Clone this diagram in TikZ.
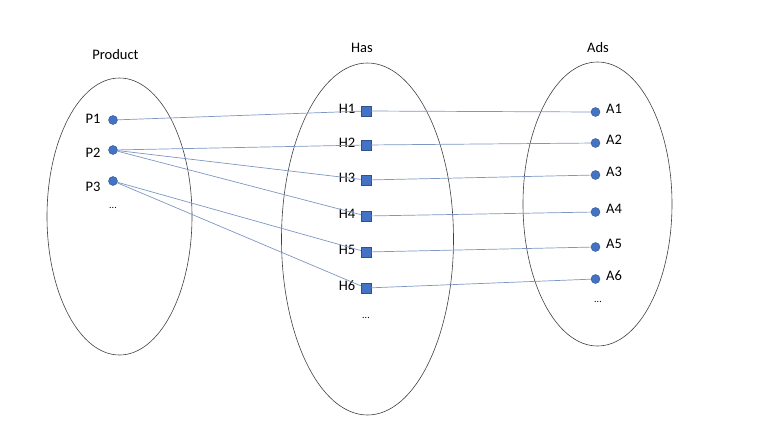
\documentclass[tikz,border=0pt]{standalone}
\usepackage{fontspec}
\setmainfont{Carlito}
\begin{document}
\begin{tikzpicture}[x=1pt,y=-1pt,
  setell/.style={draw=black!75,line width=0.6pt},
  dotnode/.style={circle,fill={rgb,255:red,68;green,114;blue,196},draw={rgb,255:red,47;green,82;blue,143},line width=0.4pt,inner sep=0pt,minimum size=9pt},
  sqnode/.style={rectangle,fill={rgb,255:red,68;green,114;blue,196},draw={rgb,255:red,47;green,82;blue,143},line width=0.4pt,inner sep=0pt,minimum size=10pt},
  lbl/.style={font=\fontsize{14.5}{17}\selectfont,inner sep=0pt},
  dts/.style={font=\fontsize{10}{12}\selectfont,inner sep=0pt},
  link/.style={draw={rgb,255:red,125;green,150;blue,195},line width=0.7pt}]
\useasboundingbox (0,0) rectangle (780,432);
% ellipses
\draw[setell] (119.5,216.5) ellipse [x radius=72.5, y radius=138.5];
\draw[setell] (367.5,239) ellipse [x radius=86, y radius=176];
\draw[setell] (597.5,204) ellipse [x radius=74.5, y radius=142];
% titles
\node[lbl] (tprod) at (115.5,55) {Product};
\node[lbl] (thas) at (362,48) {Has};
\node[lbl] (tads) at (598,48) {Ads};
% products
\node[dotnode] (p1) at (113,120) {};
\node[dotnode] (p2) at (113,150) {};
\node[dotnode] (p3) at (113,181) {};
\node[lbl] (lp1) at (93,119) {P1};
\node[lbl] (lp2) at (93,153) {P2};
\node[lbl] (lp3) at (93,187) {P3};
\node[dts] (pdots) at (113,208) {...};
% has
\foreach \i/\y in {1/111,2/145,3/180,4/216,5/252,6/288}{
  \node[sqnode] (h\i) at (366,\y) {};
  \node[lbl] (lh\i) at (347,\y-2) {H\i};
}
\node[dts] (hdots) at (366,318) {...};
% ads
\foreach \i/\y in {1/112,2/143,3/175,4/212,5/247,6/279}{
  \node[dotnode] (a\i) at (595.5,\y) {};
  \node[lbl] (la\i) at (614,\y-3) {A\i};
}
\node[dts] (adots) at (598,302) {...};
% links
\draw[link] (p1) -- (h1);
\draw[link] (p2) -- (h2);
\draw[link] (p2) -- (h3);
\draw[link] (p2) -- (h4);
\draw[link] (p3) -- (h5);
\draw[link] (p3) -- (h6);
\foreach \i in {1,...,6}{\draw[link] (h\i) -- (a\i);}
\end{tikzpicture}
\end{document}
